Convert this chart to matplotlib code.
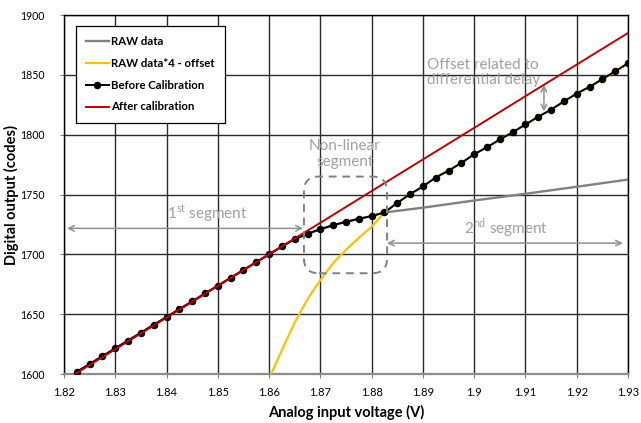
import matplotlib
matplotlib.use('Agg')
import matplotlib.pyplot as plt
from matplotlib.patches import FancyBboxPatch

plt.rcParams['font.family'] = ['Lato', 'DejaVu Sans']

# before calibration (black, with markers)
before_x = [1.8225, 1.825, 1.8275, 1.83, 1.8325, 1.835, 1.8375, 1.84, 1.8425, 1.845,
            1.8475, 1.85, 1.8525, 1.855, 1.8575, 1.86, 1.8625, 1.865, 1.8675, 1.87,
            1.8725, 1.875, 1.8775, 1.88, 1.8825, 1.885, 1.8875, 1.89, 1.8925, 1.895,
            1.8975, 1.9, 1.9025, 1.905, 1.9075, 1.91, 1.9125, 1.915, 1.9175, 1.92,
            1.9225, 1.925, 1.9275, 1.93]
before_y = [1601.8, 1608.3, 1614.9, 1621.4, 1628.0, 1634.5, 1641.1, 1647.6, 1654.2, 1660.7,
            1667.3, 1673.8, 1680.4, 1686.9, 1693.5, 1700.0, 1706.6, 1712.8, 1717.2, 1721.0,
            1724.4, 1727.2, 1729.7, 1732.0, 1735.0, 1743.0, 1750.3, 1756.8, 1764.2, 1770.0,
            1776.4, 1783.7, 1789.5, 1796.0, 1802.0, 1808.6, 1815.0, 1821.0, 1827.8, 1834.4,
            1840.0, 1846.4, 1853.0, 1859.7]

# raw data (gray)
raw_x = [1.8225, 1.825, 1.8275, 1.83, 1.8325, 1.835, 1.8375, 1.84, 1.8425, 1.845,
         1.8475, 1.85, 1.8525, 1.855, 1.8575, 1.86, 1.8625, 1.865, 1.8675, 1.87,
         1.8725, 1.875, 1.8775, 1.88, 1.8825, 1.89, 1.9, 1.91, 1.92, 1.93]
raw_y = [1601.8, 1608.3, 1614.9, 1621.4, 1628.0, 1634.5, 1641.1, 1647.6, 1654.2, 1660.7,
         1667.3, 1673.8, 1680.4, 1686.9, 1693.5, 1700.0, 1706.6, 1712.8, 1717.2, 1721.0,
         1724.4, 1727.2, 1729.7, 1732.0, 1735.0, 1739.0, 1745.0, 1750.6, 1756.5, 1762.5]

# raw data*4 - offset (yellow)
scaled_x = [1.86, 1.8625, 1.865, 1.8675, 1.87, 1.8725, 1.875, 1.8775, 1.88, 1.8825,
            1.885, 1.8875, 1.89, 1.8925, 1.895, 1.8975, 1.9, 1.9025, 1.905, 1.9075,
            1.91, 1.9125, 1.915, 1.9175, 1.92, 1.9225, 1.925, 1.9275, 1.93]
scaled_y = [1596.0, 1620.0, 1643.0, 1662.5, 1678.5, 1692.6, 1703.8, 1713.8, 1723.0, 1735.0,
            1743.0, 1750.3, 1756.8, 1764.2, 1770.0, 1776.4, 1783.7, 1789.5, 1796.0, 1802.0,
            1808.6, 1815.0, 1821.0, 1827.8, 1834.4, 1840.0, 1846.4, 1853.0, 1859.7]

# after calibration (red)
after_x = [1.82, 1.83, 1.84, 1.85, 1.86, 1.87, 1.88, 1.89, 1.9, 1.91, 1.92, 1.93]
after_y = [1594.3, 1620.7, 1647.1, 1673.6, 1700.0, 1726.4, 1752.9, 1779.3, 1805.7, 1832.2, 1858.6, 1885.0]

xticks = [1.82, 1.83, 1.84, 1.85, 1.86, 1.87, 1.88, 1.89, 1.9, 1.91, 1.92, 1.93]
xtick_labels = ['1.82', '1.83', '1.84', '1.85', '1.86', '1.87', '1.88', '1.89', '1.9', '1.91', '1.92', '1.93']
yticks = [1600, 1650, 1700, 1750, 1800, 1850, 1900]

fig = plt.figure(figsize=(6.41, 4.23), dpi=100)
ax = fig.add_axes([0.0998, 0.1158, 0.88, 0.8487])

ax.plot(raw_x, raw_y, color='#808080', lw=1.7, label='RAW data', zorder=3)
ax.plot(scaled_x, scaled_y, color='#FFC000', lw=1.6, label='RAW data*4 - offset', zorder=4)
ax.plot(before_x, before_y, color='black', lw=1.4, marker='o', ms=4.4, label='Before Calibration', zorder=5)
ax.plot(after_x, after_y, color='#C00000', lw=1.4, label='After calibration', zorder=6)

ax.set_xlim(1.82, 1.93)
ax.set_ylim(1600, 1900)
ax.set_xticks(xticks)
ax.set_xticklabels(xtick_labels)
ax.set_yticks(yticks)
ax.tick_params(labelsize=8, length=3, width=0.8, color='#808080', pad=6)
ax.tick_params(axis='y', labelsize=7.6, pad=11)
ax.grid(True, color='#2a2a2a', lw=1.0)
ax.set_axisbelow(True)
for s in ['left', 'right', 'top']:
    ax.spines[s].set_color('black')
    ax.spines[s].set_linewidth(1.0)
ax.spines['bottom'].set_color('#8c8c8c')
ax.spines['bottom'].set_linewidth(1.6)

ax.set_xlabel('Analog input voltage (V)', fontsize=10.5, fontweight='bold', labelpad=5)
ax.set_ylabel('Digital output (codes)', fontsize=10.5, fontweight='bold')
ax.yaxis.set_label_coords(-0.08, 0.5)

leg = ax.legend(loc='upper left', bbox_to_anchor=(0.021, 0.97), prop={'weight': 'bold', 'size': 8.2},
                fancybox=False, framealpha=1, edgecolor='black', labelspacing=0.95,
                handlelength=2.0, handletextpad=0.2, borderpad=0.9, borderaxespad=0)
leg.get_frame().set_linewidth(0.9)
leg.set_zorder(10)

gray = '#a0a0a0'
arrow_kw = dict(arrowstyle='<->', color='#909090', lw=1.1, shrinkA=0, shrinkB=0)

ax.text(1.8748, 1784, 'Non-linear\nsegment', ha='center', va='center', fontsize=11,
        color=gray, linespacing=1.15, zorder=7)
box = FancyBboxPatch((1.8668, 1684.2), 0.0162, 80.8,
                     boxstyle='round,pad=0,rounding_size=0.0029', mutation_aspect=4272,
                     fill=False, ec='#808080', lw=1.4, ls=(0, (4, 3)), zorder=7)
ax.add_patch(box)

ax.text(1.8479, 1734, r'1$^{\mathregular{st}}$ segment', ha='center', va='center', fontsize=11, color=gray)
ax.annotate('', xy=(1.8206, 1721.7), xytext=(1.8666, 1721.7), arrowprops=arrow_kw)

ax.text(1.9062, 1721.7, r'2$^{\mathregular{nd}}$ segment', ha='center', va='center', fontsize=11, color=gray)
ax.annotate('', xy=(1.8830, 1709.4), xytext=(1.9290, 1709.4), arrowprops=arrow_kw)

ax.text(1.8908, 1851.7, 'Offset related to\ndifferential delay', ha='left', va='center', fontsize=11,
        color=gray, linespacing=1.1, zorder=7)
ax.annotate('', xy=(1.9136, 1841.7), xytext=(1.9136, 1819.4), arrowprops=arrow_kw)

fig.savefig('out.png', dpi=100)
